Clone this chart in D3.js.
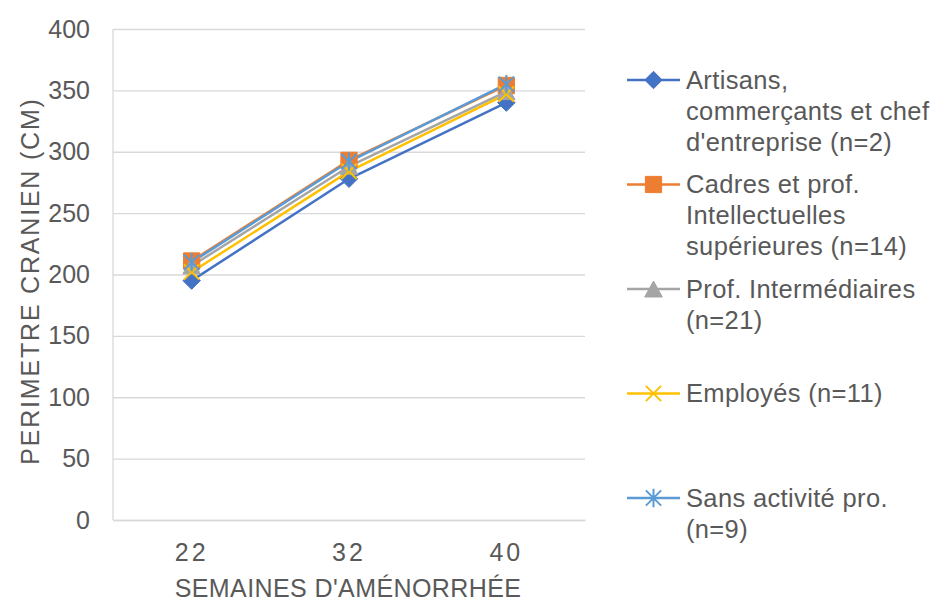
<!DOCTYPE html>
<html>
<head>
<meta charset="utf-8">
<script src="https://cdn.jsdelivr.net/npm/d3@7"></script>
<style>
  body { margin: 0; background: #fff; }
  svg { display: block; }
  text { font-family: "Liberation Sans", Arial, sans-serif; fill: #595959; }
</style>
</head>
<body>
<svg id="chart" width="938" height="601"></svg>
<script>
// Semaines d'aménorrhée (catégories de l'axe X)
const weeks = ["22", "32", "40"];

// Périmètre crânien moyen par catégorie socio-professionnelle
const artisans     = [195, 278, 340];
const cadres       = [211, 293, 354];
const profInter    = [207, 288, 349];
const employes     = [202, 284, 347];
const sansActivite = [210, 292, 355];

const yTicks = [0, 50, 100, 150, 200, 250, 300, 350, 400];

// Libellés de légende, déjà coupés en lignes
const legendLines = [
  ["Artisans,", "commerçants et chef", "d'entreprise (n=2)"],
  ["Cadres et prof.", "Intellectuelles", "supérieures (n=14)"],
  ["Prof. Intermédiaires", "(n=21)"],
  ["Employés (n=11)"],
  ["Sans activité pro.", "(n=9)"]
];

// Formes de marqueurs personnalisées pour d3.symbol (size = r²)
const mkDiamond = { draw(ctx, size) { const r = Math.sqrt(size);
  ctx.moveTo(0, -r); ctx.lineTo(r, 0); ctx.lineTo(0, r); ctx.lineTo(-r, 0); ctx.closePath(); } };
const mkSquare = { draw(ctx, size) { const r = Math.sqrt(size);
  ctx.rect(-r, -r, 2 * r, 2 * r); } };
const mkTriangle = { draw(ctx, size) { const r = Math.sqrt(size);
  ctx.moveTo(0, -r); ctx.lineTo(r * 1.1, r); ctx.lineTo(-r * 1.1, r); ctx.closePath(); } };
const mkCross = { draw(ctx, size) { const r = Math.sqrt(size);
  ctx.moveTo(-r, -r); ctx.lineTo(r, r); ctx.moveTo(-r, r); ctx.lineTo(r, -r); } };
const mkStar = { draw(ctx, size) { const r = Math.sqrt(size);
  ctx.moveTo(-r, -r); ctx.lineTo(r, r); ctx.moveTo(-r, r); ctx.lineTo(r, -r);
  ctx.moveTo(0, -r * 1.2); ctx.lineTo(0, r * 1.2); } };

const series = [
  { values: artisans,     color: "#4472C4", shape: mkDiamond,  size: 76, filled: true },
  { values: cadres,       color: "#ED7D31", shape: mkSquare,   size: 66, filled: true },
  { values: profInter,    color: "#A5A5A5", shape: mkTriangle, size: 64, filled: true },
  { values: employes,     color: "#FFC000", shape: mkCross,    size: 58, filled: false },
  { values: sansActivite, color: "#5B9BD5", shape: mkStar,     size: 58, filled: false }
];

const svg = d3.select("#chart");
const plot = { left: 113, right: 585, top: 29, bottom: 520 };

const x = d3.scaleBand().domain(weeks).range([plot.left, plot.right]);
const xc = d => x(d) + x.bandwidth() / 2;
const y = d3.scaleLinear().domain([0, 400]).range([plot.bottom, plot.top]);

// Quadrillage horizontal + graduations Y
const yAxis = svg.append("g")
  .attr("transform", `translate(${plot.left},0)`)
  .call(d3.axisLeft(y).tickValues(yTicks).tickSize(-(plot.right - plot.left)).tickPadding(23));
yAxis.select(".domain").remove();
yAxis.selectAll(".tick line").attr("stroke", "#D9D9D9").attr("stroke-width", 1.3);
yAxis.selectAll(".tick text").style("font-size", "25px").attr("fill", "#595959");

// Trait vertical de l'axe Y
svg.append("line")
  .attr("x1", plot.left).attr("x2", plot.left)
  .attr("y1", y(400)).attr("y2", y(0))
  .attr("stroke", "#D9D9D9").attr("stroke-width", 1.3);

// Axe X
const xAxis = svg.append("g")
  .attr("transform", `translate(0,${plot.bottom})`)
  .call(d3.axisBottom(x).tickSize(0).tickSizeOuter(0).tickPadding(23));
xAxis.select(".domain").attr("stroke", "#D9D9D9").attr("stroke-width", 1.3);
xAxis.selectAll(".tick text").style("font-size", "25px").style("letter-spacing", "3px")
  .attr("fill", "#595959");

// Titres des axes
svg.append("text")
  .attr("transform", `translate(30,281) rotate(-90)`)
  .attr("text-anchor", "middle").attr("dy", "0.35em")
  .style("font-size", "25px").style("letter-spacing", "1.8px")
  .text("PERIMETRE CRANIEN (CM)");

svg.append("text")
  .attr("x", 348).attr("y", 597)
  .attr("text-anchor", "middle")
  .style("font-size", "25px").style("letter-spacing", "0.4px")
  .text("SEMAINES D'AMÉNORRHÉE");

// Courbes
const line = d3.line().x((v, i) => xc(weeks[i])).y(v => y(v));

series.forEach(s => {
  svg.append("path")
    .attr("d", line(s.values))
    .attr("fill", "none").attr("stroke", s.color).attr("stroke-width", 2.5)
    .attr("stroke-linejoin", "round");
});

function drawMarker(g, s) {
  const sym = d3.symbol().type(s.shape).size(s.size);
  return g.append("path")
    .attr("d", sym())
    .attr("fill", s.filled ? s.color : "none")
    .attr("stroke", s.color)
    .attr("stroke-width", s.filled ? 1 : 2);
}

series.forEach(s => {
  s.values.forEach((v, i) => {
    const g = svg.append("g").attr("transform", `translate(${xc(weeks[i])},${y(v)})`);
    drawMarker(g, s);
  });
});

// Légende
const legend = { lineX1: 627, lineX2: 680, textX: 686, top: 80, step: 104.5, lineH: 31 };
series.forEach((s, i) => {
  const cy = legend.top + i * legend.step;
  svg.append("line")
    .attr("x1", legend.lineX1).attr("x2", legend.lineX2)
    .attr("y1", cy).attr("y2", cy)
    .attr("stroke", s.color).attr("stroke-width", 2.5);
  const g = svg.append("g").attr("transform", `translate(${(legend.lineX1 + legend.lineX2) / 2},${cy})`);
  drawMarker(g, s);
  const t = svg.append("text").attr("x", legend.textX).attr("y", cy)
    .style("font-size", "25.5px").style("letter-spacing", "0.35px");
  legendLines[i].forEach((ln, k) => {
    t.append("tspan").attr("x", legend.textX).attr("y", cy + k * legend.lineH)
      .attr("dy", "0.35em").text(ln);
  });
});
</script>
</body>
</html>
